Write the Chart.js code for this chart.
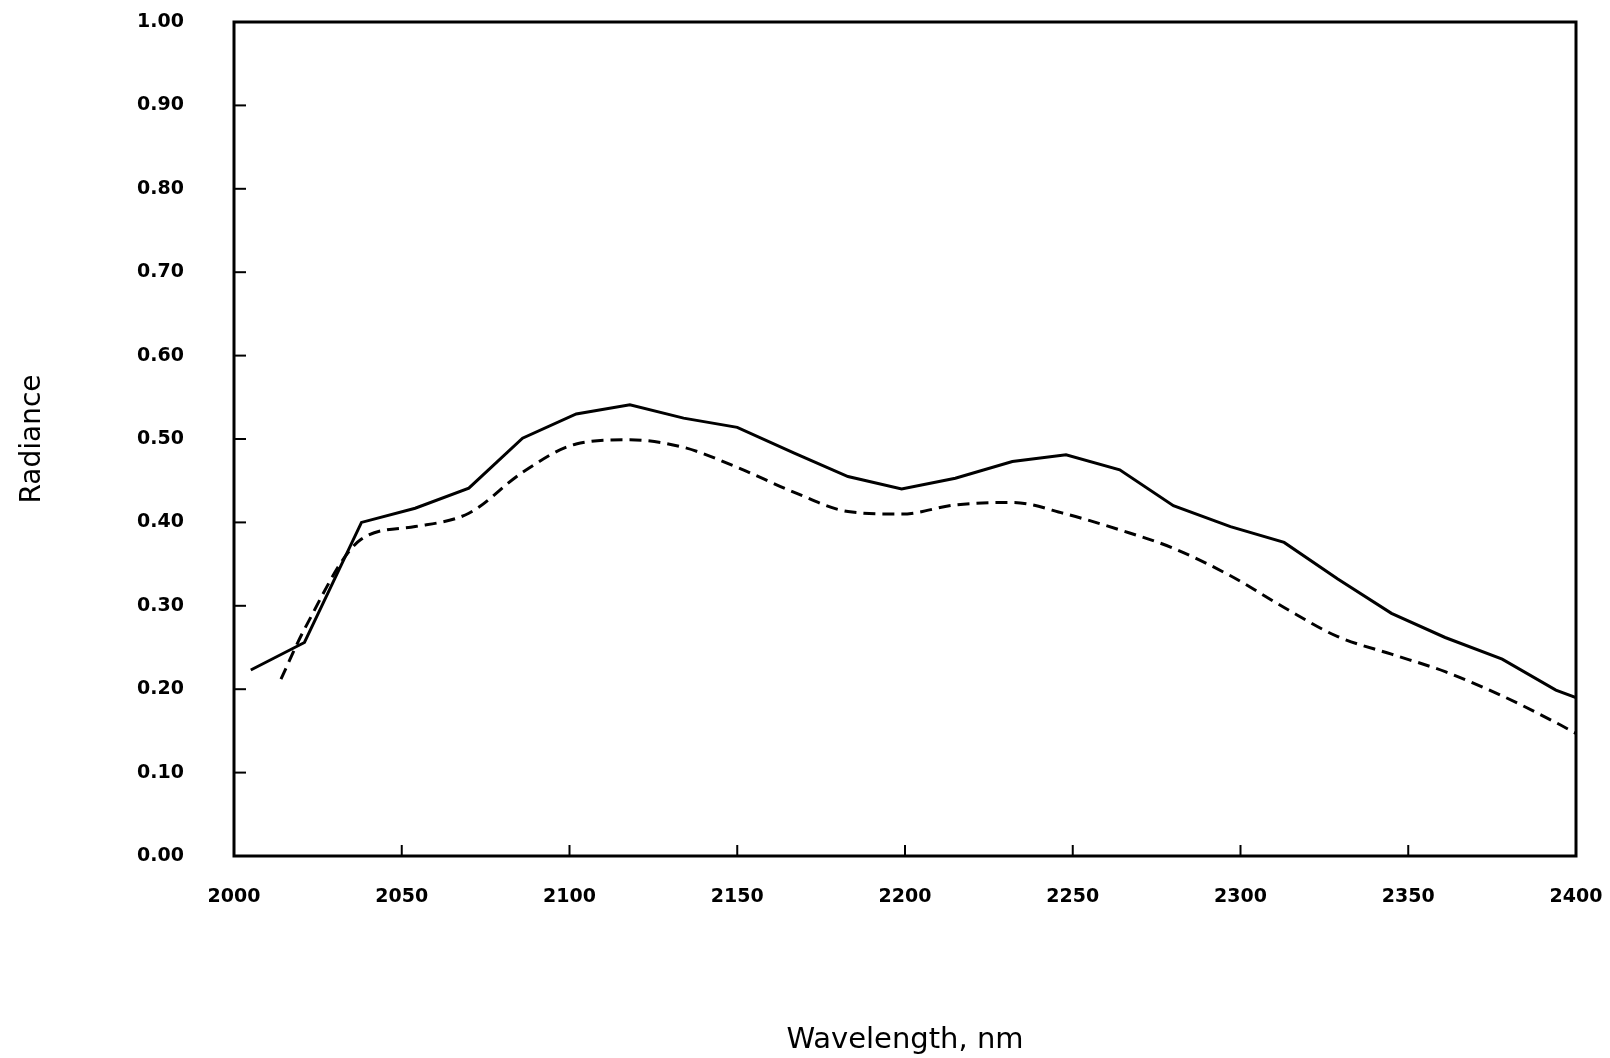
<!DOCTYPE html>
<html>
<head>
<meta charset="utf-8">
<title>Radiance</title>
<script src="https://cdn.jsdelivr.net/npm/chart.js@4.4.0/dist/chart.umd.min.js"></script>
<style>
  html, body { margin: 0; padding: 0; background: #fff; }
  #wrap { width: 1610px; height: 1058px; }
</style>
</head>
<body>
<div id="wrap"><canvas id="radianceChart" width="1610" height="1058"></canvas></div>
<script>
// values
var wavelengthSolid = [2005, 2021, 2038, 2054, 2070, 2086, 2102, 2118, 2134, 2150, 2167, 2183, 2199,
  2215, 2232, 2248, 2264, 2280, 2297, 2313, 2329, 2345, 2361, 2378, 2394, 2400];
var radianceSolid = [0.223, 0.256, 0.400, 0.417, 0.441, 0.501, 0.530, 0.541, 0.525, 0.514, 0.483, 0.455, 0.440,
  0.453, 0.473, 0.481, 0.463, 0.420, 0.395, 0.376, 0.332, 0.291, 0.262, 0.236, 0.199, 0.190];

var wavelengthDashed = [2014, 2021, 2038, 2054, 2070, 2086, 2102, 2118, 2134, 2150, 2167, 2183, 2199,
  2215, 2232, 2248, 2264, 2280, 2297, 2313, 2329, 2345, 2361, 2378, 2394, 2400];
var radianceDashed = [0.212, 0.272, 0.380, 0.395, 0.411, 0.460, 0.494, 0.499, 0.490, 0.466, 0.436, 0.413, 0.410,
  0.421, 0.424, 0.410, 0.391, 0.369, 0.336, 0.298, 0.263, 0.242, 0.221, 0.192, 0.160, 0.147];

var xTicks = [2000, 2050, 2100, 2150, 2200, 2250, 2300, 2350, 2400];
var yTicks = [0, 0.1, 0.2, 0.3, 0.4, 0.5, 0.6, 0.7, 0.8, 0.9, 1.0];

function toPoints(xs, ys) {
  var pts = [];
  for (var i = 0; i < xs.length; i++) {
    pts.push({x: xs[i], y: ys[i]});
  }
  return pts;
}

// box round the plot + little inward ticks, like the original
var framePlugin = {
  id: 'frame',
  afterDatasetsDraw: function(chart) {
    var ctx = chart.ctx, a = chart.chartArea;
    var xs = chart.scales.x, ys = chart.scales.y;
    ctx.save();
    ctx.strokeStyle = '#000';
    ctx.lineWidth = 2;
    yTicks.forEach(function(v) {
      var py = ys.getPixelForValue(v);
      ctx.beginPath();
      ctx.moveTo(a.left, py);
      ctx.lineTo(a.left + 12, py);
      ctx.stroke();
    });
    xTicks.forEach(function(v) {
      var px = xs.getPixelForValue(v);
      ctx.beginPath();
      ctx.moveTo(px, a.bottom);
      ctx.lineTo(px, a.bottom - 11);
      ctx.stroke();
    });
    ctx.lineWidth = 3;
    ctx.strokeRect(a.left, a.top, a.right - a.left, a.bottom - a.top);
    ctx.restore();
  }
};

var ctx = document.getElementById('radianceChart').getContext('2d');
var myChart = new Chart(ctx, {
  type: 'line',
  data: {
    datasets: [
      {
        data: toPoints(wavelengthSolid, radianceSolid),
        borderColor: '#000',
        borderWidth: 3,
        pointRadius: 0,
        tension: 0,
        fill: false
      },
      {
        data: toPoints(wavelengthDashed, radianceDashed),
        borderColor: '#000',
        borderWidth: 3,
        borderDash: [12, 7],
        pointRadius: 0,
        cubicInterpolationMode: 'monotone',
        fill: false
      }
    ]
  },
  options: {
    responsive: false,
    animation: false,
    devicePixelRatio: 1,
    layout: { padding: { top: 22, right: 34, left: 0, bottom: 0 } },
    plugins: {
      legend: { display: false },
      tooltip: { enabled: false }
    },
    scales: {
      x: {
        type: 'linear',
        min: 2000,
        max: 2400,
        afterFit: function(scale) {
          scale.height = 202;
          scale.paddingLeft = 0;
          scale.paddingRight = 0;
        },
        grid: { display: false },
        border: { display: false },
        ticks: {
          stepSize: 50,
          padding: 22,
          color: '#000',
          maxRotation: 0,
          font: { family: 'DejaVu Sans', size: 19, weight: 'bold' },
          callback: function(v) { return String(v); }
        },
        title: {
          display: true,
          text: 'Wavelength, nm',
          color: '#000',
          font: { family: 'DejaVu Sans', size: 29 },
          padding: { top: 0, bottom: 0 }
        }
      },
      y: {
        min: 0,
        max: 1,
        afterFit: function(scale) {
          scale.width = 234;
          scale.paddingTop = 0;
          scale.paddingBottom = 0;
        },
        grid: { display: false },
        border: { display: false },
        ticks: {
          stepSize: 0.1,
          padding: 42,
          color: '#000',
          font: { family: 'DejaVu Sans', size: 19, weight: 'bold' },
          callback: function(v) { return v.toFixed(2); }
        },
        title: {
          display: true,
          text: 'Radiance',
          color: '#000',
          font: { family: 'DejaVu Sans', size: 28 },
          padding: { top: 16, bottom: 0 }
        }
      }
    }
  },
  plugins: [framePlugin]
});
</script>
</body>
</html>
